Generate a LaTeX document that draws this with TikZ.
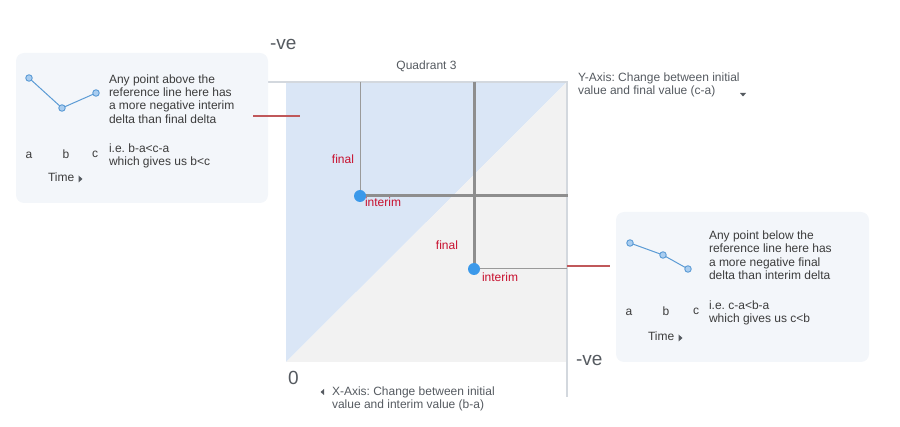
\documentclass[tikz,border=0pt]{standalone}
\usepackage{fontspec}
\setmainfont{Liberation Sans}
\frenchspacing
\definecolor{bluef}{HTML}{DAE6F6}
\definecolor{grayf}{HTML}{F2F2F2}
\definecolor{axisc}{HTML}{D3D8DE}
\definecolor{thickc}{HTML}{8E8E8E}
\definecolor{thinc}{HTML}{9A9A9A}
\definecolor{dotc}{HTML}{3B99EA}
\definecolor{redt}{HTML}{C8102E}
\definecolor{redl}{HTML}{C0585A}
\definecolor{boxf}{HTML}{F3F6FA}
\definecolor{sparkc}{HTML}{5B9BD5}
\definecolor{sparkf}{HTML}{A9CDF0}
\definecolor{txt}{HTML}{3C3C3C}
\definecolor{txtl}{HTML}{555A60}
\begin{document}
\begin{tikzpicture}[x=1pt,y=-1pt,
  every node/.style={inner sep=0pt, outer sep=0pt, text=txt, font=\fontsize{12}{13.3}\selectfont},
  panel/.style={fill=boxf, draw=none, rounded corners=8pt},
  axisline/.style={draw=axisc, line width=1.6pt},
  thickline/.style={draw=thickc, line width=3pt},
  thinline/.style={draw=thinc, line width=1pt},
  redline/.style={draw=redl, line width=1.3pt},
  dot/.style={circle, fill=dotc, minimum size=12pt},
  spark/.style={draw=sparkc, line width=1pt},
  sparkdot/.style={circle, draw=sparkc, fill=sparkf, line width=0.9pt, minimum size=6.5pt},
  lbl/.style={text=redt, anchor=base},
  big/.style={font=\fontsize{19}{22}\selectfont, text=txtl, anchor=base west},
  para/.style={anchor=north west, align=left},
  tri/.style={fill=txtl, draw=none}
]
\useasboundingbox (0,0) rectangle (900,427);

% ---- quadrant area ----
\fill[bluef] (286,82) -- (567,82) -- (286,362) -- cycle;
\fill[grayf] (286,362) -- (567,82) -- (567,362) -- cycle;

% axes
\coordinate (axL) at (268,82);
\coordinate (axTR) at (567,82);
\coordinate (axB) at (567,397);
\draw[axisline] (axL) -- (axTR) -- (axB);

% guide lines
\coordinate (d1) at (360,196);
\coordinate (d2) at (474,269);
\coordinate (t1) at (360,82);
\coordinate (r1) at (568,196);
\coordinate (t2) at (474,82);
\coordinate (r2) at (567,269);
\draw[thinline] (t1) -- (d1);
\draw[thickline] (d1) -- (r1);
\draw[thickline] (t2) -- (d2);
\draw[thinline] (d2) -- (r2);

\node[dot] (p1) at (d1) {};
\node[dot] (p2) at (d2) {};

\node[lbl] (f1) at (343,164) {final};
\node[lbl] (i1) at (383,207) {interim};
\node[lbl] (f2) at (447,250) {final};
\node[lbl] (i2) at (500,282) {interim};

% axis labels
\node[big] (negtop) at (270,50) {-ve};
\node[big] (negright) at (576,366) {-ve};
\node[big] (zero) at (288,385) {0};
\node[anchor=base, text=txtl] (quad) at (426.5,70) {Quadrant 3};
\node[para, text=txtl] (ylab) at (578,73) {Y-Axis: Change between initial\\value and final value (c-a)};
\fill[tri] (740,93) -- (746,93) -- (743,96.5) -- cycle;
\node[para, text=txtl] (xlab) at (332,387) {X-Axis: Change between initial\\value and interim value (b-a)};
\fill[tri] (324,389) -- (320.5,392) -- (324,395) -- cycle;

% ---- left panel ----
\node[panel, minimum width=252pt, minimum height=150pt, anchor=north west] (boxL) at (16,53) {};
\coordinate (rlA) at (253,116);
\coordinate (rlB) at (300,116);
\draw[redline] (rlA) -- (rlB);
\coordinate (la) at (29,78);
\coordinate (lb) at (62,108);
\coordinate (lc) at (96,93);
\draw[spark] (la) -- (lb) -- (lc);
\node[sparkdot] (lda) at (la) {};
\node[sparkdot] (ldb) at (lb) {};
\node[sparkdot] (ldc) at (lc) {};
\node[para] (ltext) at (109,74.5) {Any point above the\\reference line here has\\a more negative interim\\delta than final delta};
\node[para] (lie) at (109,143.5) {i.e. b-a<c-a\\which gives us b<c};
\node[anchor=base] (lA) at (29,158.5) {a};
\node[anchor=base] (lB) at (66,158.5) {b};
\node[anchor=base] (lC) at (95,157.5) {c};
\node[anchor=base west] (ltime) at (48,182) {Time};
\fill[tri] (78.5,175.5) -- (82.5,179) -- (78.5,182.5) -- cycle;

% ---- right panel ----
\node[panel, minimum width=253pt, minimum height=150pt, anchor=north west] (boxR) at (616,212) {};
\coordinate (rrA) at (567,266);
\coordinate (rrB) at (610,266);
\draw[redline] (rrA) -- (rrB);
\coordinate (ra) at (630,243);
\coordinate (rb) at (663,255);
\coordinate (rc) at (688,269);
\draw[spark] (ra) -- (rb) -- (rc);
\node[sparkdot] (rda) at (ra) {};
\node[sparkdot] (rdb) at (rb) {};
\node[sparkdot] (rdc) at (rc) {};
\node[para] (rtext) at (709,231) {Any point below the\\reference line here has\\a more negative final\\delta than interim delta};
\node[para] (rie) at (709,301) {i.e. c-a<b-a\\which gives us c<b};
\node[anchor=base] (rA) at (629,316) {a};
\node[anchor=base] (rB) at (666,316) {b};
\node[anchor=base] (rC) at (696,315) {c};
\node[anchor=base west] (rtime) at (648,341) {Time};
\fill[tri] (678.5,334.5) -- (682.5,338) -- (678.5,341.5) -- cycle;
\end{tikzpicture}
\end{document}
